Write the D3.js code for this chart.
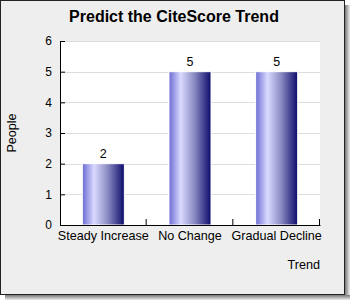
<!DOCTYPE html>
<html>
<head>
<meta charset="utf-8">
<script src="https://cdn.jsdelivr.net/npm/d3@7"></script>
<style>
  body { margin: 0; background: #fff; }
  text { font-family: "Liberation Sans", Arial, sans-serif; }
</style>
</head>
<body>
<script>
// chart data
let categories = ['Steady Increase', 'No Change', 'Gradual Decline'];
let people = [2, 5, 5];
let yTicks = [0, 1, 2, 3, 4, 5, 6];

let svgWidth = 350;
let svgHeight = 300;
let margin = { top: 41, right: 30, bottom: 75, left: 60 };
let chartWidth = svgWidth - margin.left - margin.right;
let chartHeight = svgHeight - margin.top - margin.bottom;

let svg = d3.select('body')
  .append('svg')
  .attr('width', svgWidth)
  .attr('height', svgHeight);

// bar gradient
let defs = svg.append('defs');
let grad = defs.append('linearGradient')
  .attr('id', 'barGrad')
  .attr('x1', '0%').attr('x2', '100%')
  .attr('y1', '0%').attr('y2', '0%');
[['0%', '#6b6bd3'], ['28%', '#dadaff'], ['60%', '#8c8cc4'], ['100%', '#0b0b6b']]
  .forEach(s => grad.append('stop').attr('offset', s[0]).attr('stop-color', s[1]));

// drop shadow and frame
let shadow = defs.append('linearGradient').attr('id', 'shR');
shadow.append('stop').attr('offset', '0%').attr('stop-color', '#777');
shadow.append('stop').attr('offset', '100%').attr('stop-color', '#eee');
let shadowB = defs.append('linearGradient').attr('id', 'shB')
  .attr('x1', '0%').attr('x2', '0%').attr('y1', '0%').attr('y2', '100%');
shadowB.append('stop').attr('offset', '0%').attr('stop-color', '#777');
shadowB.append('stop').attr('offset', '100%').attr('stop-color', '#eee');

svg.append('rect').attr('x', 345).attr('y', 5).attr('width', 5).attr('height', 295).attr('fill', 'url(#shR)');
svg.append('rect').attr('x', 5).attr('y', 295).attr('width', 345).attr('height', 5).attr('fill', 'url(#shB)');
svg.append('rect')
  .attr('x', 0.5).attr('y', 0.5)
  .attr('width', 344).attr('height', 294)
  .attr('fill', '#eeeeee')
  .attr('stroke', '#222');

let chartGroup = svg.append('g')
  .attr('transform', `translate(${margin.left}, ${margin.top})`);

chartGroup.append('rect')
  .attr('width', chartWidth)
  .attr('height', chartHeight)
  .attr('fill', '#fff');

let xScale = d3.scaleBand()
  .domain(categories)
  .range([0, chartWidth])
  .paddingInner(0.515)
  .paddingOuter(0.2575);

let yScale = d3.scaleLinear()
  .domain([0, 6])
  .range([chartHeight, 0]);

// grid lines
chartGroup.append('g')
  .selectAll('line')
  .data(yTicks.slice(1))
  .enter()
  .append('line')
  .attr('x1', 0)
  .attr('x2', chartWidth)
  .attr('y1', d => Math.round(yScale(d)) + 0.5)
  .attr('y2', d => Math.round(yScale(d)) + 0.5)
  .attr('stroke', '#dddddd');

// bars
chartGroup.selectAll('.bar')
  .data(people)
  .enter()
  .append('rect')
  .classed('bar', true)
  .attr('x', (d, i) => xScale(categories[i]))
  .attr('y', d => yScale(d))
  .attr('width', xScale.bandwidth())
  .attr('height', d => chartHeight - yScale(d))
  .attr('fill', 'url(#barGrad)')
  .attr('stroke', '#fff')
  .attr('stroke-width', 1);

// value labels
chartGroup.selectAll('.val')
  .data(people)
  .enter()
  .append('text')
  .attr('x', (d, i) => xScale(categories[i]) + xScale.bandwidth() / 2)
  .attr('y', d => yScale(d) - 6)
  .attr('text-anchor', 'middle')
  .style('font-size', '12.5px')
  .text(d => d);

// y axis
let yAxis = d3.axisLeft(yScale)
  .tickValues(yTicks)
  .tickFormat(d3.format('d'))
  .tickSizeInner(-5)
  .tickSizeOuter(0)
  .tickPadding(8);
let yG = chartGroup.append('g').call(yAxis);
yG.selectAll('text').style('font-size', '12px').attr('font-family', 'Liberation Sans, Arial');

// x axis with ticks on category boundaries
let xAxis = d3.axisBottom(xScale).tickSize(0).tickPadding(6);
let xG = chartGroup.append('g')
  .attr('transform', `translate(0, ${chartHeight})`)
  .call(xAxis);
xG.selectAll('text').style('font-size', '12.6px').attr('font-family', 'Liberation Sans, Arial');
xG.selectAll('.bound')
  .data(categories)
  .enter()
  .append('line')
  .attr('x1', (d, i) => xScale.step() * (i + 1) - 0.5)
  .attr('x2', (d, i) => xScale.step() * (i + 1) - 0.5)
  .attr('y1', 0)
  .attr('y2', -6)
  .attr('stroke', '#000');

// title and axis titles
svg.append('text')
  .attr('x', 174)
  .attr('y', 22)
  .attr('text-anchor', 'middle')
  .style('font-size', '16px')
  .style('font-weight', 'bold')
  .text('Predict the CiteScore Trend');

svg.append('text')
  .attr('transform', `translate(16, ${margin.top + chartHeight / 2}) rotate(-90)`)
  .attr('text-anchor', 'middle')
  .style('font-size', '12.6px')
  .text('People');

svg.append('text')
  .attr('x', margin.left + chartWidth)
  .attr('y', 269)
  .attr('text-anchor', 'end')
  .style('font-size', '12.6px')
  .text('Trend');
</script>
</body>
</html>
